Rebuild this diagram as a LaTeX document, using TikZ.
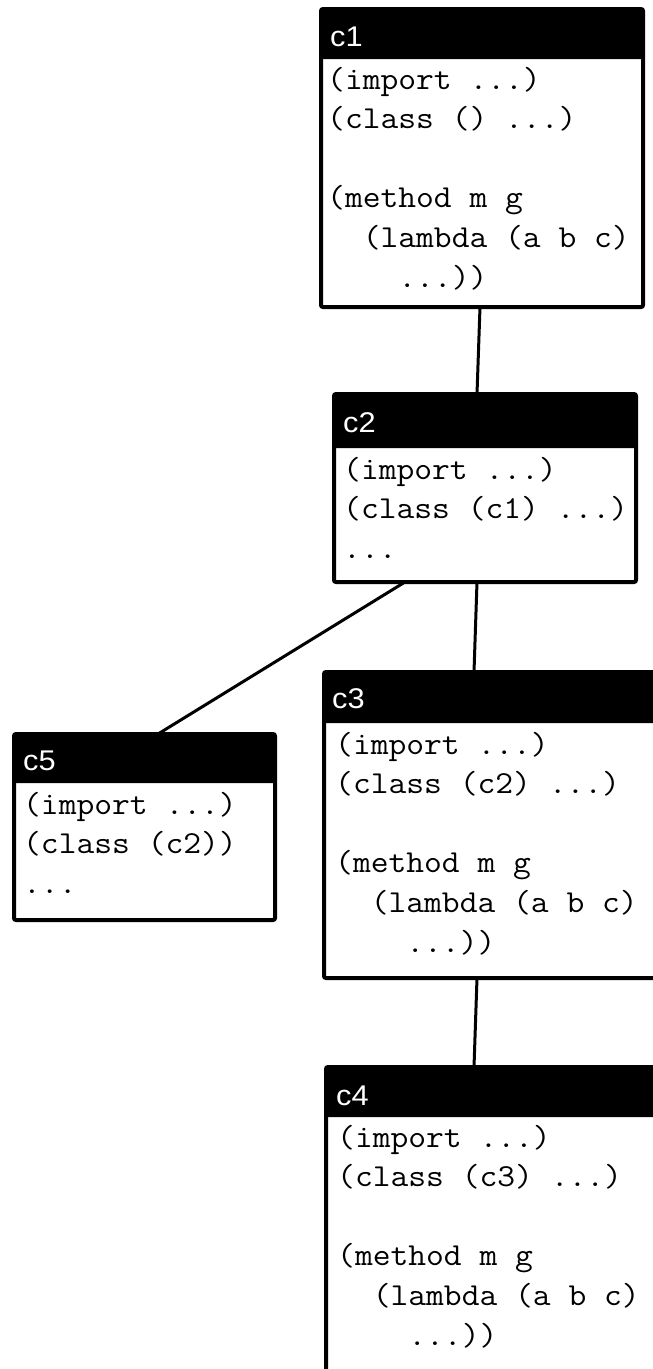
\documentclass[tikz,border=0pt]{standalone}
\usepackage{fontspec}
\newfontfamily\labelfont{Liberation Sans}
\newcommand\codebox[1]{\scalebox{1.08}[1]{\vtop{#1}}}
\newcommand\labbox[1]{\scalebox{1.08}[1]{#1}}
\begin{document}
\begin{tikzpicture}[x=1pt,y=-1pt,
  frame/.style={draw=black, line width=4pt, fill=white, rounded corners=2pt, anchor=north west, inner sep=0pt, outer sep=0pt},
  header/.style={fill=black, rounded corners=2pt, anchor=north west, inner sep=0pt, outer sep=0pt},
  lab/.style={text=white, font=\labelfont\fontsize{28.5}{28.5}\selectfont, anchor=base west, inner sep=0pt},
  code/.style={font=\ttfamily\fontsize{32}{39.6}\selectfont, anchor=base west, inner sep=0pt},
  link/.style={line width=3pt}]
\useasboundingbox (0,0) rectangle (653,1369);
\clip (0,0) rectangle (653,1369);

% c1
\node[frame, minimum width=322pt, minimum height=298pt] (c1) at (321,9) {};
\node[header, minimum width=322pt, minimum height=50pt] (c1h) at (c1.north west) {};
\node[lab] (c1l) at (330,46) {\labbox{c1}};
\node[code] (c1t) at (327,89) {\codebox{\hbox{(import ...)}\hbox{(class () ...)}\hbox{}\hbox{(method m g}\hbox{\ \ (lambda (a b c)}\hbox{\ \ \ \ ...))}}};

% c2
\node[frame, minimum width=302pt, minimum height=188pt] (c2) at (334,394) {};
\node[header, minimum width=302pt, minimum height=54pt] (c2h) at (c2.north west) {};
\node[lab] (c2l) at (343,432) {\labbox{c2}};
\node[code] (c2t) at (343,479) {\codebox{\hbox{(import ...)}\hbox{(class (c1) ...)}\hbox{...}}};

% c3
\node[frame, minimum width=400pt, minimum height=306pt] (c3) at (324,672) {};
\node[header, minimum width=400pt, minimum height=51pt] (c3h) at (c3.north west) {};
\node[lab] (c3l) at (332,708) {\labbox{c3}};
\node[code] (c3t) at (335,754) {\codebox{\hbox{(import ...)}\hbox{(class (c2) ...)}\hbox{}\hbox{(method m g}\hbox{\ \ (lambda (a b c)}\hbox{\ \ \ \ ...))}}};

% c5
\node[frame, minimum width=261pt, minimum height=186pt] (c5) at (14,734) {};
\node[header, minimum width=261pt, minimum height=49pt] (c5h) at (c5.north west) {};
\node[lab] (c5l) at (23,770) {\labbox{c5}};
\node[code] (c5t) at (23,814) {\codebox{\hbox{(import ...)}\hbox{(class (c2))}\hbox{...}}};

% c4
\node[frame, minimum width=400pt, minimum height=400pt] (c4) at (326,1067) {};
\node[header, minimum width=400pt, minimum height=50pt] (c4h) at (c4.north west) {};
\node[lab] (c4l) at (336,1105) {\labbox{c4}};
\node[code] (c4t) at (337,1147) {\codebox{\hbox{(import ...)}\hbox{(class (c3) ...)}\hbox{}\hbox{(method m g}\hbox{\ \ (lambda (a b c)}\hbox{\ \ \ \ ...))}}};

% connectors
\draw[link] ([xshift=159pt]c1.south west) -- ([xshift=143pt]c2.north west);
\draw[link] ([xshift=143pt]c2.south west) -- ([xshift=150pt]c3.north west);
\draw[link] ([xshift=71pt]c2.south west) -- ([xshift=144pt]c5.north west);
\draw[link] ([xshift=153pt]c3.south west) -- ([xshift=148pt]c4.north west);
\end{tikzpicture}
\end{document}
